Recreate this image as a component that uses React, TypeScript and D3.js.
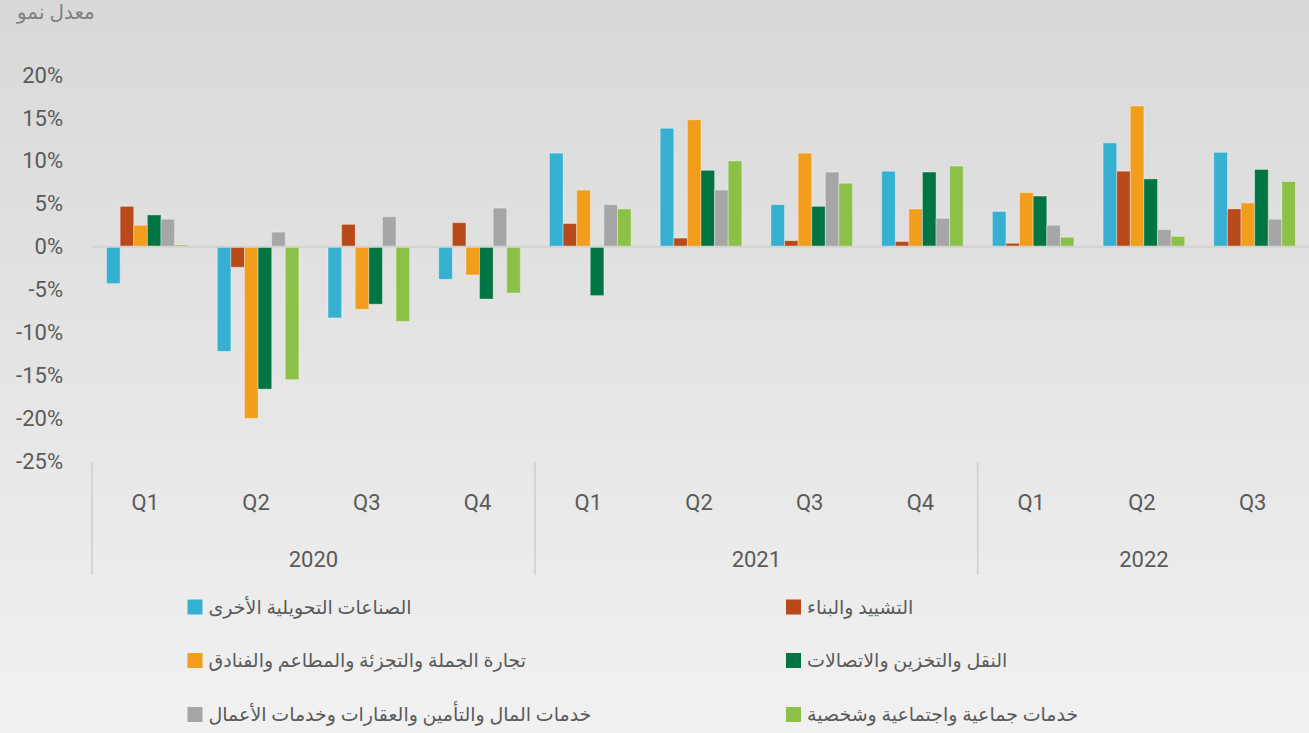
import React, { useEffect, useRef } from "react";
import * as d3 from "d3";

const quarters = ["Q1", "Q2", "Q3", "Q4", "Q1", "Q2", "Q3", "Q4", "Q1", "Q2", "Q3"];
const years = ["2020", "2021", "2022"];
const quartersPerYear = [4, 4, 3];

const seriesNames = [
  "الصناعات التحويلية الأخرى",
  "التشييد والبناء",
  "تجارة الجملة والتجزئة والمطاعم والفنادق",
  "النقل والتخزين والاتصالات",
  "خدمات المال والتأمين والعقارات وخدمات الأعمال",
  "خدمات جماعية واجتماعية وشخصية",
];
const seriesColors = ["#36b0d1", "#b84a19", "#f29d1c", "#007543", "#a6a6a6", "#8bc146"];

// growth rates in %
const manufacturing = [-4.3, -12.2, -8.3, -3.8, 10.9, 13.8, 4.9, 8.8, 4.1, 12.1, 11.0];
const construction = [4.7, -2.4, 2.6, 2.8, 2.7, 1.0, 0.7, 0.6, 0.4, 8.8, 4.4];
const trade = [2.5, -20.0, -7.3, -3.3, 6.6, 14.8, 10.9, 4.4, 6.3, 16.4, 5.1];
const transport = [3.7, -16.6, -6.7, -6.1, -5.7, 8.9, 4.7, 8.7, 5.9, 7.9, 9.0];
const finance = [3.2, 1.7, 3.5, 4.5, 4.9, 6.6, 8.7, 3.3, 2.5, 2.0, 3.2];
const social = [0.2, -15.5, -8.7, -5.4, 4.4, 10.0, 7.4, 9.4, 1.1, 1.2, 7.6];
const seriesValues = [manufacturing, construction, trade, transport, finance, social];

const yTicks = [20, 15, 10, 5, 0, -5, -10, -15, -20, -25];

const W = 1309;
const H = 733;
const FONT = "Roboto, 'DejaVu Sans', sans-serif";
const TEXT = "#5a5a5a";

export default function App() {
  const ref = useRef<SVGSVGElement>(null);

  useEffect(() => {
    const svg = d3.select(ref.current);
    svg.selectAll("*").remove();

    const defs = svg.append("defs");
    const grad = defs
      .append("linearGradient")
      .attr("id", "bg")
      .attr("x1", 0)
      .attr("y1", 0)
      .attr("x2", 0)
      .attr("y2", 1);
    grad.append("stop").attr("offset", "0%").attr("stop-color", "#d9d8d8");
    grad.append("stop").attr("offset", "100%").attr("stop-color", "#f1f1f1");
    svg.append("rect").attr("width", W).attr("height", H).attr("fill", "url(#bg)");

    const idx = d3.range(quarters.length).map(String);
    const x0 = d3.scaleBand().domain(idx).range([92, 1310]).padding(0);
    const x1 = d3
      .scaleBand()
      .domain(d3.range(seriesNames.length).map(String))
      .range([0, x0.bandwidth()])
      .paddingInner(0)
      .paddingOuter(1.07);
    const y = d3.scaleLinear().domain([-25, 20]).range([461.2, 75.1]);

    // title
    svg
      .append("text")
      .attr("x", 17)
      .attr("y", 12)
      .attr("dominant-baseline", "central")
      .attr("font-family", FONT)
      .attr("font-size", 20)
      .attr("fill", "#808080")
      .text("معدل نمو");

    // y tick labels
    svg
      .append("g")
      .selectAll("text")
      .data(yTicks)
      .join("text")
      .attr("x", 63)
      .attr("y", (d) => y(d))
      .attr("dominant-baseline", "central")
      .attr("text-anchor", "end")
      .attr("font-family", FONT)
      .attr("font-size", 22)
      .attr("fill", TEXT)
      .text((d) => d + "%");

    // bars
    const groups = svg
      .append("g")
      .selectAll("g")
      .data(idx)
      .join("g")
      .attr("transform", (d) => `translate(${x0(d)},0)`);

    groups
      .selectAll("rect")
      .data((d) => seriesValues.map((vals, s) => ({ s, v: vals[+d] })))
      .join("rect")
      .attr("x", (d) => x1(String(d.s))!)
      .attr("width", x1.bandwidth())
      .attr("y", (d) => y(Math.max(0, d.v)))
      .attr("height", (d) => Math.abs(y(d.v) - y(0)))
      .attr("fill", (d) => seriesColors[d.s])
      .attr("stroke", "rgba(255,255,255,0.35)")
      .attr("stroke-width", 1);

    // zero line
    svg
      .append("line")
      .attr("x1", 92)
      .attr("x2", W)
      .attr("y1", y(0))
      .attr("y2", y(0))
      .attr("stroke", "#d2d2d2")
      .attr("stroke-width", 2);

    // quarter labels
    svg
      .append("g")
      .selectAll("text")
      .data(idx)
      .join("text")
      .attr("x", (d) => x0(d)! + x0.bandwidth() / 2 - 2)
      .attr("y", 502)
      .attr("dominant-baseline", "central")
      .attr("text-anchor", "middle")
      .attr("font-family", FONT)
      .attr("font-size", 22)
      .attr("fill", TEXT)
      .text((d) => quarters[+d]);

    // year groups
    let start = 0;
    years.forEach((yr, i) => {
      const n = quartersPerYear[i];
      const left = x0(String(start))!;
      const right = left + n * x0.bandwidth();
      svg
        .append("line")
        .attr("x1", left)
        .attr("x2", left)
        .attr("y1", 462)
        .attr("y2", 575)
        .attr("stroke", "#d4d4d4")
        .attr("stroke-width", 2);
      svg
        .append("text")
        .attr("x", (left + right) / 2)
        .attr("y", 559)
        .attr("dominant-baseline", "central")
        .attr("text-anchor", "middle")
        .attr("font-family", FONT)
        .attr("font-size", 22)
        .attr("fill", TEXT)
        .text(yr);
      start += n;
    });

    // legend
    const legendX = [187.5, 786];
    const legendY = [607, 660.5, 714.5];
    const lg = svg
      .append("g")
      .selectAll("g")
      .data(seriesNames)
      .join("g")
      .attr("transform", (d, i) => `translate(${legendX[i % 2]},${legendY[Math.floor(i / 2)]})`);
    lg.append("rect")
      .attr("x", 0)
      .attr("y", -7.5)
      .attr("width", 15)
      .attr("height", 15)
      .attr("fill", (d, i) => seriesColors[i]);
    lg.append("text")
      .attr("x", 21)
      .attr("y", 0)
      .attr("dominant-baseline", "central")
      .attr("text-anchor", "start")
      .attr("font-family", FONT)
      .attr("font-size", 19)
      .attr("fill", TEXT)
      .text((d) => d);
  }, []);

  return (
    <svg
      ref={ref}
      width={W}
      height={H}
      style={{ position: "absolute", left: 0, top: 0, display: "block" }}
    />
  );
}
